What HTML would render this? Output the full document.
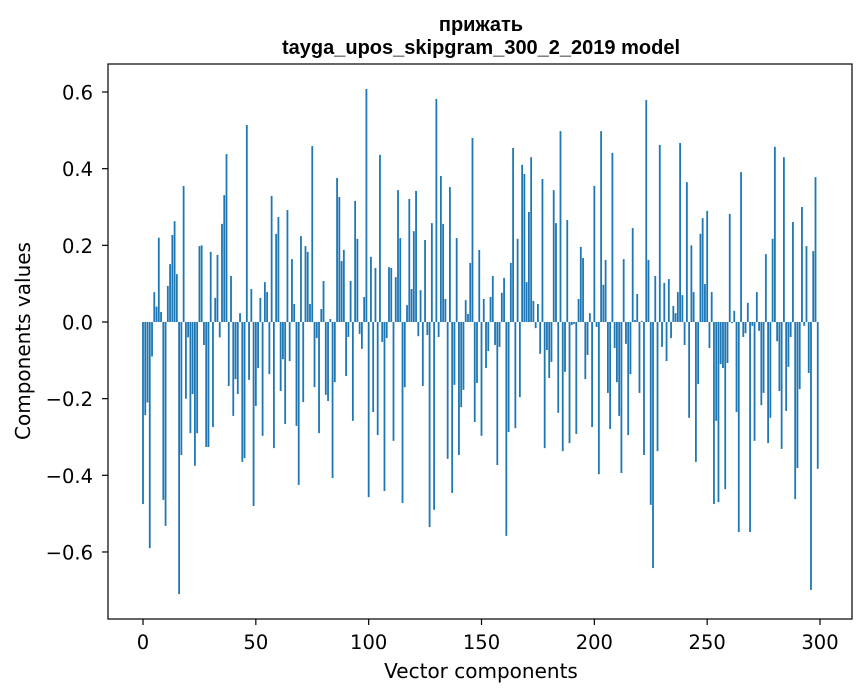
<!DOCTYPE html>
<html><head><meta charset="utf-8"><style>
body{margin:0;background:#fff;}
svg{display:block;font-family:"DejaVu Sans","Liberation Sans",sans-serif;}
</style></head><body>
<svg id="chart" width="867" height="696" viewBox="0 0 867 696" xmlns="http://www.w3.org/2000/svg">
<rect width="867" height="696" fill="#fff"/>
<text x="481" y="31" text-anchor="middle" font-size="20" font-weight="bold" font-family="Liberation Sans, sans-serif">прижать</text>
<text x="481" y="54" text-anchor="middle" font-size="20" font-weight="bold" font-family="Liberation Sans, sans-serif">tayga_upos_skipgram_300_2_2019 model</text>
<g id="bars"></g>
<g id="axes"></g>
<rect x="108" y="64" width="744" height="555" fill="none" stroke="#000" stroke-width="1.2"/>
<text x="481" y="678" text-anchor="middle" font-size="20">Vector components</text>
<text transform="translate(30,341) rotate(-90)" text-anchor="middle" font-size="20">Components values</text>
</svg>
<script>
const values = [
-0.475,-0.243,-0.21,-0.59,-0.09,0.078,0.04,0.22,0.026,-0.464,
-0.532,0.094,0.151,0.227,0.263,0.125,-0.71,-0.347,0.355,-0.2,
-0.04,-0.29,-0.188,-0.375,-0.29,0.198,0.2,-0.06,-0.326,-0.326,
0.183,-0.274,0.063,0.175,-0.04,0.256,0.331,0.438,-0.167,0.12,
-0.245,-0.149,-0.188,0.023,-0.365,-0.355,0.514,-0.151,0.086,-0.48,
-0.219,-0.12,0.063,-0.297,0.104,0.078,-0.136,0.329,-0.329,0.23,
0.274,-0.18,-0.097,-0.266,0.292,-0.102,0.164,0.047,-0.271,-0.425,
0.224,-0.209,0.198,0.183,0.047,0.459,-0.17,-0.042,-0.29,0.034,
0.107,-0.19,-0.206,0.008,-0.407,-0.157,0.376,0.326,0.159,0.188,
-0.141,-0.039,0.107,-0.258,0.316,0.217,-0.031,-0.07,0.065,0.608,
-0.457,0.17,-0.235,0.141,-0.295,0.436,-0.052,-0.441,-0.042,0.143,
0.141,-0.31,0.117,0.344,0.219,-0.472,-0.17,0.044,0.321,0.086,
0.237,0.342,-0.037,0.083,-0.167,0.214,-0.034,-0.535,0.258,-0.49,
0.582,-0.039,0.381,0.256,0.06,-0.357,0.352,-0.446,-0.164,0.219,
-0.347,-0.222,-0.177,0.057,0.021,0.154,0.48,-0.261,-0.159,0.188,
-0.297,0.06,-0.12,-0.076,0.065,0.12,-0.06,-0.373,-0.065,0.076,
0.115,-0.558,-0.287,0.154,0.454,-0.277,0.217,-0.196,0.41,0.386,
0.104,0.287,0.43,0.055,-0.016,0.047,-0.083,0.373,-0.329,-0.073,
-0.146,-0.104,0.344,0.258,-0.237,0.498,-0.337,-0.13,0.266,-0.316,
-0.008,-0.005,-0.292,0.06,0.196,0.167,-0.149,-0.086,0.023,-0.274,
0.355,-0.013,-0.397,0.498,0.097,0.162,-0.185,-0.279,0.441,-0.068,
-0.157,-0.245,-0.394,0.164,-0.057,-0.295,-0.136,0.245,0.005,0.073,
-0.185,0.003,-0.347,0.579,0.162,-0.477,-0.642,0.12,-0.337,0.462,
-0.065,0.102,-0.102,0.112,-0.042,0.042,0.023,0.078,0.467,0.07,
-0.06,0.365,-0.25,0.2,0.078,-0.365,-0.162,0.23,0.271,0.099,
0.29,-0.068,0.078,-0.475,-0.258,-0.47,-0.11,-0.12,-0.436,-0.107,
0.282,-0.003,0.029,-0.235,-0.548,0.391,-0.039,-0.029,0.05,-0.548,
-0.01,-0.31,0.078,-0.023,-0.217,-0.185,0.177,-0.316,-0.25,0.217,
0.457,-0.05,-0.18,-0.331,0.43,-0.232,-0.117,-0.039,0.261,-0.462,
-0.381,-0.175,0.3,-0.01,0.198,-0.133,-0.699,0.185,0.378,-0.383
];
const xTicks = [0,50,100,150,200,250,300];
const yTicks = [-0.6,-0.4,-0.2,0.0,0.2,0.4,0.6];
const yTickLabels = ["\u22120.6","\u22120.4","\u22120.2","0.0","0.2","0.4","0.6"];

const NS="http://www.w3.org/2000/svg";
function xScale(v){return 143 + v*2.2567;}
function yScale(v){return 322 - v*383.3;}
const bars=document.getElementById('bars');
values.forEach((v,i)=>{
  const r=document.createElementNS(NS,'rect');
  const x0=xScale(i-0.4), x1=xScale(i+0.4);
  const y0=yScale(Math.max(v,0)), y1=yScale(Math.min(v,0));
  r.setAttribute('x',x0);r.setAttribute('width',x1-x0);
  r.setAttribute('y',y0);r.setAttribute('height',Math.max(y1-y0,0.1));
  r.setAttribute('fill','#1f77b4');
  
  
  bars.appendChild(r);
});
const axes=document.getElementById('axes');
xTicks.forEach(t=>{
  const x=xScale(t);
  const l=document.createElementNS(NS,'line');
  l.setAttribute('x1',x);l.setAttribute('x2',x);l.setAttribute('y1',619);l.setAttribute('y2',625);
  l.setAttribute('stroke','#000');l.setAttribute('stroke-width','1.2');
  
  
  axes.appendChild(l);
  const tx=document.createElementNS(NS,'text');
  tx.setAttribute('x',x);tx.setAttribute('y',649);tx.setAttribute('text-anchor','middle');tx.setAttribute('font-size','19.5');
  tx.textContent=String(t);
  
  
  axes.appendChild(tx);
});
yTicks.forEach((t,k)=>{
  const y=yScale(t);
  const l=document.createElementNS(NS,'line');
  l.setAttribute('x1',102);l.setAttribute('x2',108);l.setAttribute('y1',y);l.setAttribute('y2',y);
  l.setAttribute('stroke','#000');l.setAttribute('stroke-width','1.2');
  
  
  axes.appendChild(l);
  const tx=document.createElementNS(NS,'text');
  tx.setAttribute('x',93);tx.setAttribute('y',y+7.5);tx.setAttribute('text-anchor','end');tx.setAttribute('font-size','19.5');
  tx.textContent=yTickLabels[k];
  
  
  axes.appendChild(tx);
});
</script>
</body></html>
